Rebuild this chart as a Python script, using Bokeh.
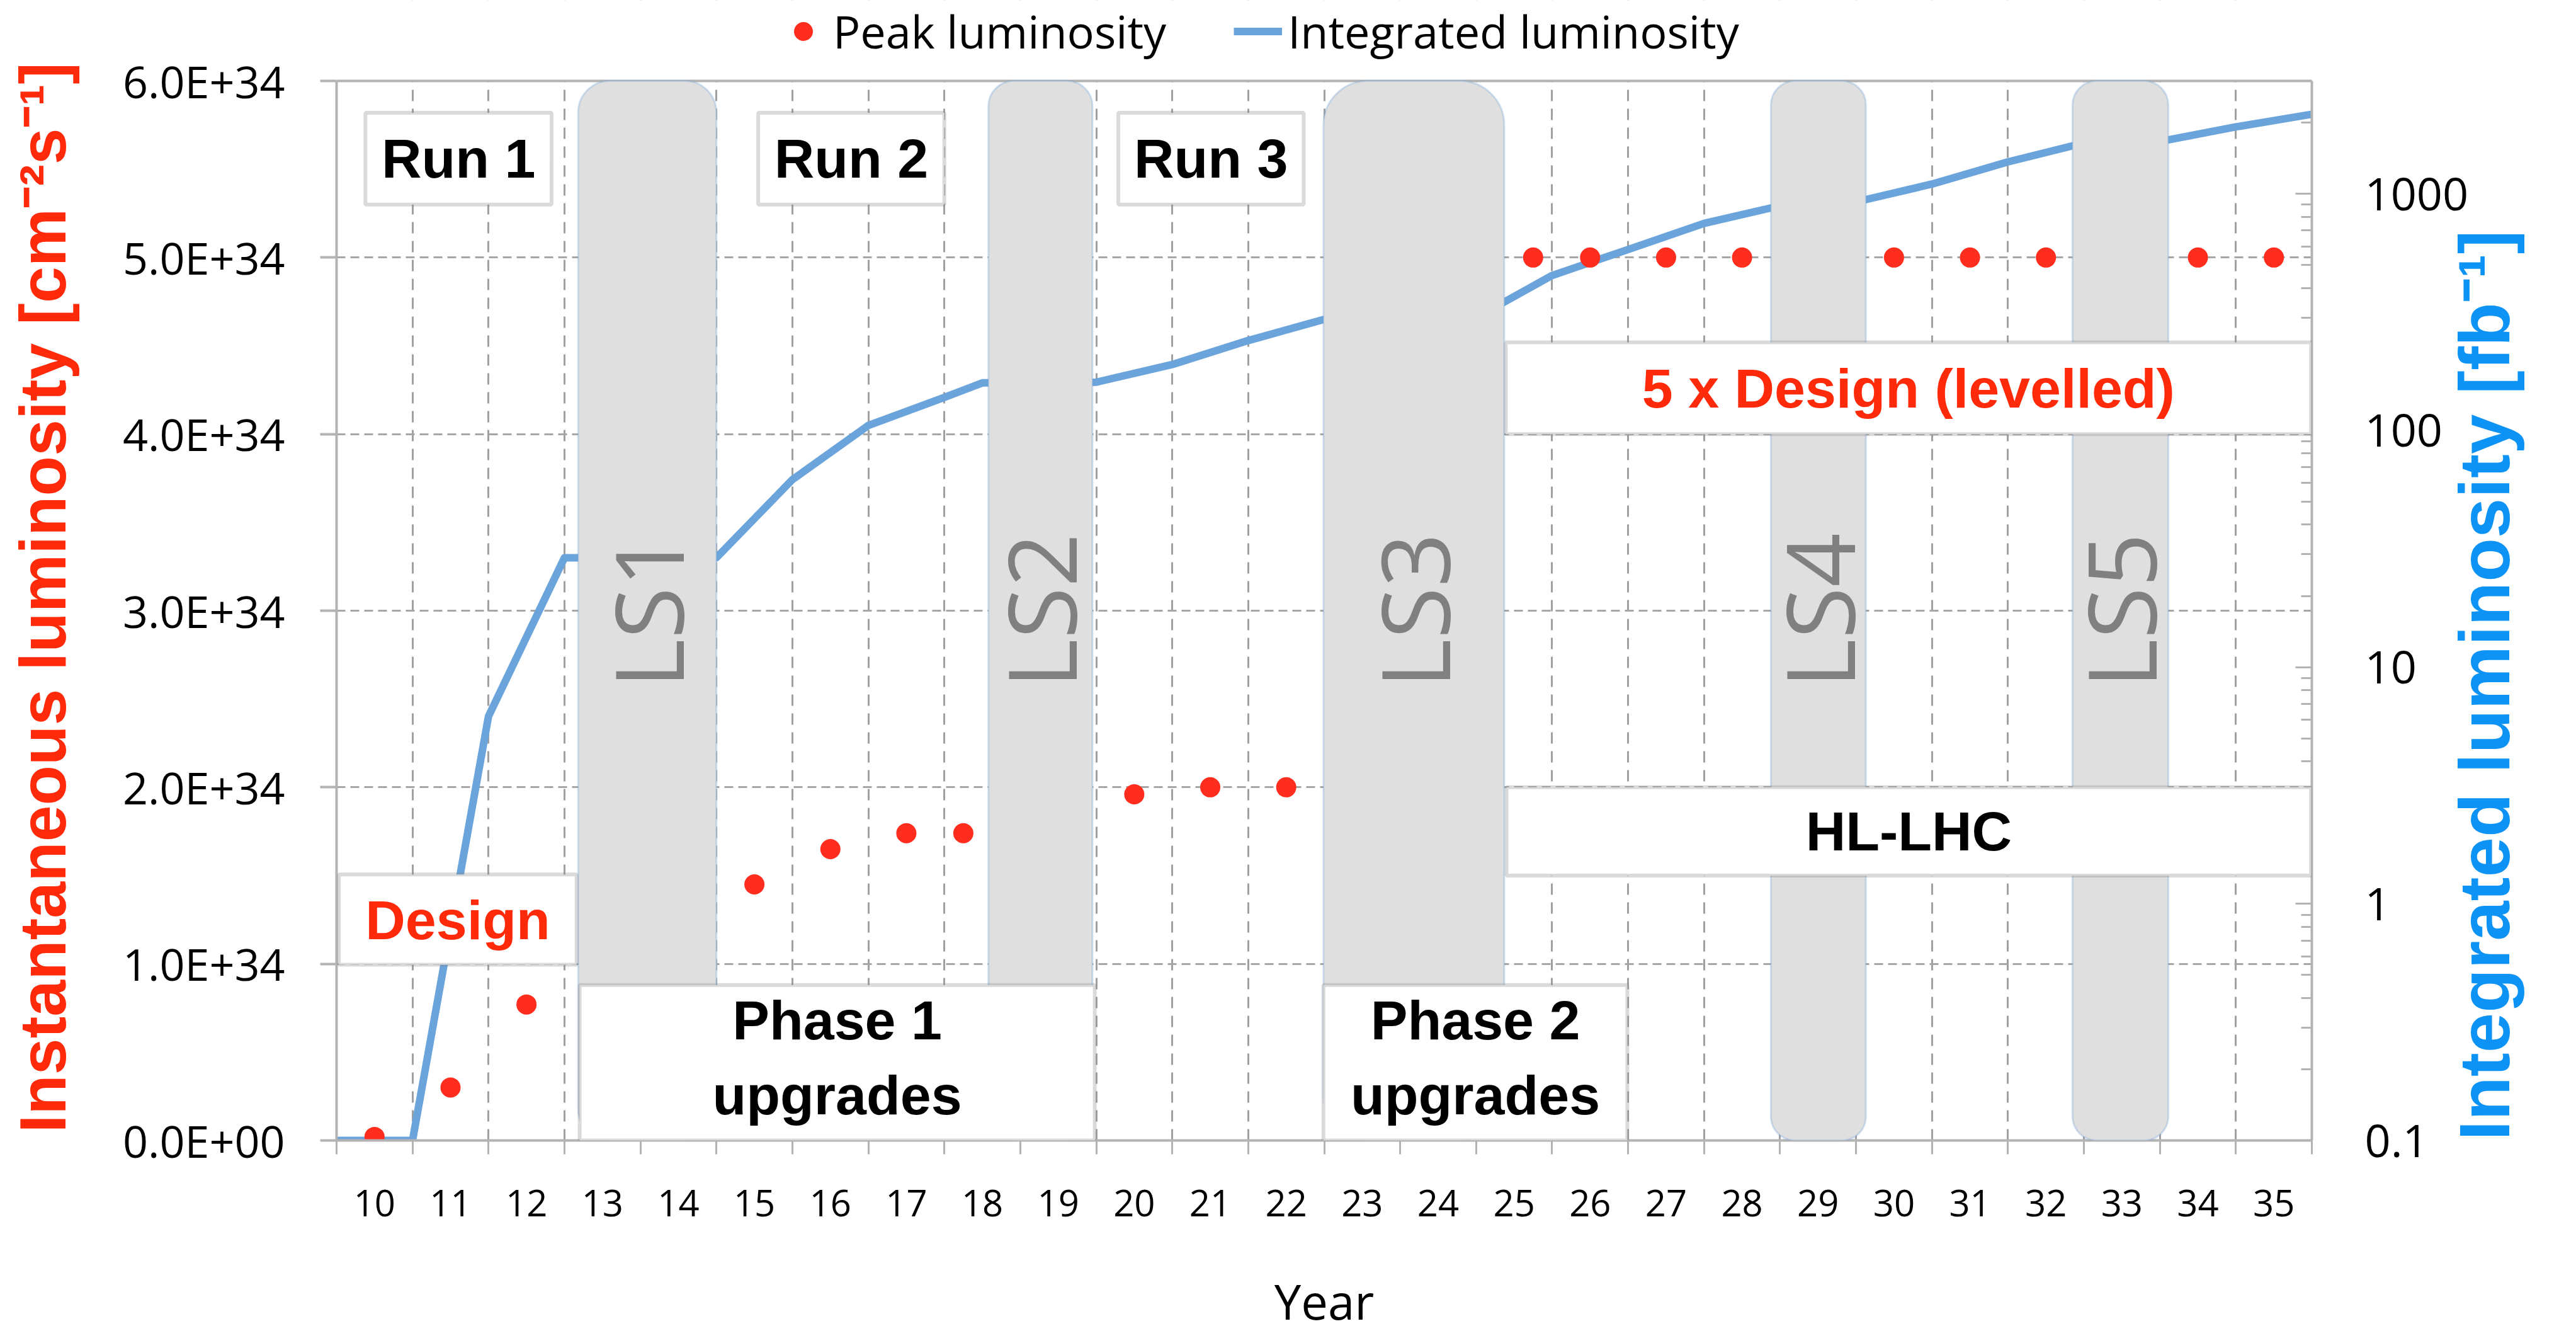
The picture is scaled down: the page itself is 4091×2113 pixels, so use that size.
from math import pi, log10
from bokeh.plotting import figure
from bokeh.models import (Range1d, LogScale, LogAxis, FixedTicker, BoxAnnotation, Label, Span,
                          Legend, LegendItem, CustomJSTickFormatter, ColumnDataSource)
from bokeh.embed import file_html
from bokeh.resources import INLINE

# ---------------- data ----------------
years = list(range(10, 36))
year_labels = [str(y) for y in years]

# peak (instantaneous) luminosity, units of 1E34 cm^-2 s^-1
peak_year = [10, 11, 12, 15, 16, 17, 17.75, 20, 21, 22, 25.25, 26, 27, 28, 30, 31, 32, 34, 35]
peak_lumi_e34 = [0.02, 0.30, 0.77, 1.45, 1.65, 1.74, 1.74, 1.96, 2.00, 2.00,
                 5.0, 5.0, 5.0, 5.0, 5.0, 5.0, 5.0, 5.0, 5.0]

# integrated luminosity [fb^-1], at end of each year
int_year = [9.5, 10.5, 11.5, 12.5, 13.5, 14.5, 15.5, 16.5, 17.5, 18.0, 18.5, 19.5, 20.5,
            21.5, 22.5, 23.5, 24.5, 25.5, 26.5, 27.5, 28.5, 29.5, 30.5, 31.5, 32.5, 33.5,
            34.5, 35.5]
int_lumi = [0.1, 0.1, 6.2, 29, 29, 29, 62, 105, 138, 159, 159, 160, 190,
            240, 295, 295, 300, 452, 582, 750, 890, 925, 1100, 1365, 1640, 1665,
            1919, 2170]

left_ticks = [0, 1, 2, 3, 4, 5, 6]
left_tick_labels = ["0.0E+00", "1.0E+34", "2.0E+34", "3.0E+34", "4.0E+34", "5.0E+34", "6.0E+34"]
right_ticks = [0.1, 1, 10, 100, 1000]
right_min, right_max = 0.1, 3000

shutdown_names = ["LS1", "LS2", "LS3", "LS4", "LS5"]
shutdown_start = [12.68, 18.08, 22.49, 28.38, 32.35]
shutdown_end = [14.50, 19.45, 24.87, 29.63, 33.61]

# ---------------- styles / layout ----------------
RED = "#ff2a0a"
DOT = "#ff2d1e"
BLUE_LINE = "#6aa4da"
BLUE_TXT = "#0d93f5"
GRID = "#a6a6a6"
AXIS = "#b3b3b3"
BOXLINE = "#858585"
TICKFONT = "Open Sans"
BOXFONT = "Liberation Sans"

AXES_PX = 1682          # pixel height of the 0..6E34 axis span
FRAME_PX = 1810         # frame extends above the axes to hold the legend
y_lo, y_hi = left_ticks[0], left_ticks[-1]
y_top = y_lo + (y_hi - y_lo) * FRAME_PX / AXES_PX
log_lo, log_hi = log10(right_min), log10(right_max)
right_top = 10 ** (log_lo + (log_hi - log_lo) * FRAME_PX / AXES_PX)

NBSP = "\u00a0"
p = figure(width=4075, frame_height=FRAME_PX,
           x_range=Range1d(9.5, 35.5), y_range=Range1d(y_lo, y_top),
           output_backend="svg", toolbar_location=None,
           min_border_left=534, min_border_right=399,
           min_border_top=0, min_border_bottom=287,
           x_axis_label="Year",
           y_axis_label="Instantaneous luminosity [cm\u207b\u00b2s\u207b\u00b9]" + NBSP * 3)
p.background_fill_color = "white"
p.border_fill_color = "white"
p.outline_line_color = None

p.extra_y_ranges = {"int": Range1d(right_min, right_top)}
p.extra_y_scales = {"int": LogScale()}

# x axis
xax = p.xaxis[0]
xax.ticker = FixedTicker(ticks=years, minor_ticks=[y - 0.5 for y in years] + [years[-1] + 0.5])
xax.major_label_overrides = {y: lab for y, lab in zip(years, year_labels)}
xax.major_tick_line_color = None
xax.major_tick_out = 22
xax.major_tick_in = 0
xax.minor_tick_out = 22
xax.minor_tick_in = 0
xax.minor_tick_line_color = AXIS
xax.minor_tick_line_width = 3
xax.axis_line_color = AXIS
xax.axis_line_width = 4
xax.major_label_text_font = TICKFONT
xax.major_label_text_font_size = "58px"
xax.major_label_text_color = "black"
xax.major_label_standoff = 56
xax.axis_label_text_font = TICKFONT
xax.axis_label_text_font_size = "76px"
xax.axis_label_text_font_style = "normal"
xax.axis_label_text_color = "black"
xax.axis_label_standoff = 80

# left axis
yax = p.yaxis[0]
yax.bounds = (y_lo, y_hi)
yax.ticker = FixedTicker(ticks=left_ticks)
yax.major_label_overrides = {t: lab for t, lab in zip(left_ticks, left_tick_labels)}
yax.major_tick_out = 26
yax.major_tick_in = 0
yax.major_tick_line_color = AXIS
yax.major_tick_line_width = 4
yax.minor_tick_line_color = None
yax.axis_line_color = AXIS
yax.axis_line_width = 4
yax.major_label_text_font = TICKFONT
yax.major_label_text_font_size = "70px"
yax.major_label_text_color = "black"
yax.major_label_standoff = 56
yax.axis_label_text_font = BOXFONT
yax.axis_label_text_font_size = "104px"
yax.axis_label_text_font_style = "bold"
yax.axis_label_text_color = RED
yax.axis_label_standoff = 66

# right (log) axis
minor_right = [m * 10.0 ** e for e in range(-1, 4) for m in range(2, 10) if m * 10.0 ** e <= right_max]
rax = LogAxis(y_range_name="int", bounds=(right_min, right_max),
              ticker=FixedTicker(ticks=right_ticks, minor_ticks=minor_right),
              formatter=CustomJSTickFormatter(code="return tick.toString();"),
              axis_label="Integrated luminosity [fb\u207b\u00b9]")
rax.major_tick_in = 26
rax.major_tick_out = 0
rax.minor_tick_in = 17
rax.minor_tick_out = 0
rax.major_tick_line_color = AXIS
rax.major_tick_line_width = 3
rax.minor_tick_line_color = AXIS
rax.minor_tick_line_width = 3
rax.axis_line_color = AXIS
rax.axis_line_width = 4
rax.major_label_text_font = TICKFONT
rax.major_label_text_font_size = "72px"
rax.major_label_text_color = "black"
rax.major_label_standoff = 84
rax.axis_label_text_font = BOXFONT
rax.axis_label_text_font_size = "114px"
rax.axis_label_text_font_style = "bold"
rax.axis_label_text_color = BLUE_TXT
rax.axis_label_standoff = 22
try:
    rax.axis_label_orientation = pi / 2   # read bottom-to-top
    rax.axis_label_align = "start"
except Exception:
    pass
p.add_layout(rax, "right")

# grids
p.ygrid.grid_line_color = GRID
p.ygrid.grid_line_width = 3
p.ygrid.grid_line_dash = "14 8"
p.xgrid.grid_line_color = None
p.xgrid.minor_grid_line_color = "#a0a0a0"
p.xgrid.minor_grid_line_width = 3
p.xgrid.minor_grid_line_dash = "18 12"

# white band above the axes area (legend lives there) + top border of the axes area
p.add_layout(BoxAnnotation(bottom=y_hi, top=y_top, fill_color="white", fill_alpha=1.0,
                           line_color=None))
p.add_layout(Span(location=y_hi, dimension="width", line_color=AXIS, line_width=4))

# ---------------- series ----------------
src_int = ColumnDataSource(dict(x=int_year, y=int_lumi))
r_int = p.line("x", "y", source=src_int, y_range_name="int",
               line_color=BLUE_LINE, line_width=12, line_join="round")
src_peak = ColumnDataSource(dict(x=peak_year, y=peak_lumi_e34))
r_peak = p.scatter("x", "y", source=src_peak, size=32, fill_color=DOT, line_color=None)

# ---------------- long shutdowns ----------------
ls_radius = [50, 40, 70, 38, 38]
for name, a, b, rad in zip(shutdown_names, shutdown_start, shutdown_end, ls_radius):
    p.add_layout(BoxAnnotation(left=a, right=b, bottom=y_lo, top=y_hi,
                               fill_color="#dfdfdf", fill_alpha=1.0,
                               line_color="#6a9fd4", line_width=3, border_radius=rad))
for name, a, b in zip(shutdown_names, shutdown_start, shutdown_end):
    p.add_layout(Label(x=(a + b) / 2, y=3.0, text=name, angle=pi / 2, angle_units="rad",
                       text_align="center", text_baseline="middle",
                       text_font=TICKFONT, text_font_size="150px", text_color="#808080"))

# ---------------- text boxes ----------------
boxes = [
    ("Run 1", 9.88, 12.33, 5.30, 5.82, 5.56, "black"),
    ("Run 2", 15.05, 17.50, 5.30, 5.82, 5.56, "black"),
    ("Run 3", 19.79, 22.23, 5.30, 5.82, 5.56, "black"),
    ("5 x Design (levelled)", 24.89, 35.49, 4.00, 4.52, 4.26, RED),
    ("HL-LHC", 24.90, 35.49, 1.50, 2.00, 1.75, "black"),
    ("Design", 9.53, 12.66, 0.995, 1.506, 1.25, RED),
    ("Phase 1\nupgrades", 12.70, 19.48, 0.0, 0.88, 0.47, "black"),
    ("Phase 2\nupgrades", 22.49, 26.49, 0.0, 0.88, 0.47, "black"),
]
for text, l, r, b, t, ty, col in boxes:
    p.add_layout(BoxAnnotation(left=l, right=r, bottom=b, top=t,
                               fill_color="white", fill_alpha=1.0,
                               line_color=BOXLINE, line_width=6))
for text, l, r, b, t, ty, col in boxes:
    p.add_layout(Label(x=(l + r) / 2, y=ty, text=text,
                       text_align="center", text_baseline="middle",
                       text_font=BOXFONT, text_font_size="88px", text_font_style="bold",
                       text_color=col, text_line_height=1.2))

# ---------------- legend (in the band above the axes) ----------------
legend = Legend(items=[LegendItem(label="Peak luminosity", renderers=[r_peak]),
                       LegendItem(label="Integrated luminosity", renderers=[r_int])],
                orientation="horizontal", location=(703, 1712),
                glyph_width=77, glyph_height=75, label_standoff=9, spacing=107,
                padding=0, margin=0, border_line_color=None, background_fill_alpha=0,
                label_text_font=TICKFONT, label_text_font_size="72px",
                label_text_color="black")
p.add_layout(legend)

open("out.html", "w").write(file_html(p, INLINE))
